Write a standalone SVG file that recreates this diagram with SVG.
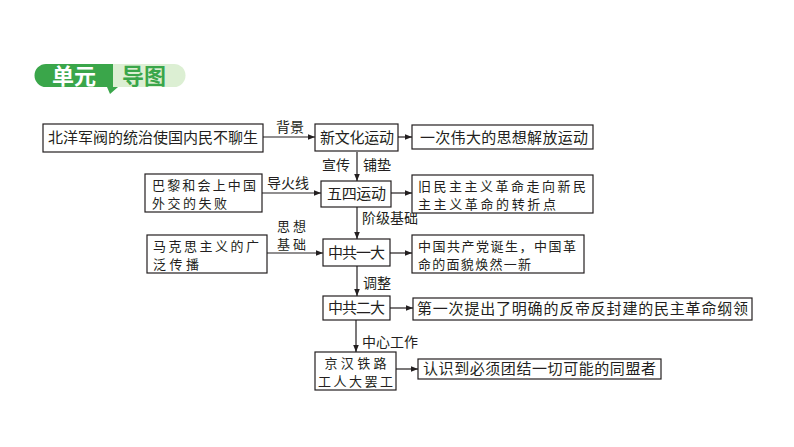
<svg xmlns="http://www.w3.org/2000/svg" width="794" height="447" viewBox="0 0 794 447">
<style>
.box{fill:#fff;stroke:#231f20;stroke-width:1.2}
.t{font-family:"Noto Sans CJK SC","Noto Sans CJK JP",sans-serif;font-size:15px;fill:#231f20}
.t2{font-family:"Noto Sans CJK SC","Noto Sans CJK JP",sans-serif;font-size:13px;fill:#231f20}
.l{font-family:"Noto Sans CJK SC","Noto Sans CJK JP",sans-serif;font-size:14px;fill:#231f20}
.l2{font-family:"Noto Sans CJK SC","Noto Sans CJK JP",sans-serif;font-size:13px;fill:#231f20}
.c{stroke:#231f20;stroke-width:1.2;fill:none;marker-end:url(#ah)}
.h{font-family:"Noto Sans CJK SC",sans-serif;font-size:22px;font-weight:bold}
</style>
<defs>
<marker id="ah" viewBox="0 0 10 10" refX="10" refY="5" markerWidth="7" markerHeight="7" markerUnits="userSpaceOnUse" orient="auto">
<path d="M0,1 L10,5 L0,9 Z" fill="#231f20"/>
</marker>
</defs>
<rect width="794" height="447" fill="#fff"/>
<g id="header">
<path d="M112,64 H174 A11,11 0 0 1 174,87 H112 Z" fill="#dcefd3"/>
<path d="M46,64 H113 V87 H118 L110,94 L107,87 H46 A11.5,11.5 0 0 1 46,64 Z" fill="#3aa64a"/>
<text class="h" x="52" y="84" fill="#fff">单元</text>
<text class="h" x="122" y="84" fill="#3aa64a">导图</text>
</g>
<g id="connectors">
<path class="c" d="M263,137 H315"/>
<text class="l" x="276" y="132">背景</text>
<path class="c" d="M398,137 H412"/>
<path class="c" d="M357,152 V181"/>
<text class="l" x="322" y="170">宣传</text>
<text class="l" x="363" y="170">铺垫</text>
<path class="c" d="M262,193 H321"/>
<text class="l" x="267" y="188">导火线</text>
<path class="c" d="M391,193 H412"/>
<path class="c" d="M357,207 V239"/>
<text class="l" x="362" y="223">阶级基础</text>
<path class="c" d="M267,253 H323"/>
<text class="l2" x="277" y="231" textLength="29" lengthAdjust="spacing">思想</text>
<text class="l2" x="277" y="249" textLength="29" lengthAdjust="spacing">基础</text>
<path class="c" d="M390,253 H412"/>
<path class="c" d="M357,266 V296"/>
<text class="l" x="363" y="288">调整</text>
<path class="c" d="M390,308 H413"/>
<path class="c" d="M356,320 V352"/>
<text class="l" x="362" y="347">中心工作</text>
<path class="c" d="M396,369 H418"/>
</g>
<g id="n1"><rect class="box" x="43" y="124" width="220" height="28"/><text class="t" x="48" y="143" textLength="210" lengthAdjust="spacing">北洋军阀的统治使国内民不聊生</text></g>
<g id="n2"><rect class="box" x="315" y="124" width="83" height="27"/><text class="t" x="320" y="143" textLength="74" lengthAdjust="spacing">新文化运动</text></g>
<g id="n3"><rect class="box" x="412" y="125" width="181" height="24"/><text class="t" x="420" y="143" textLength="168" lengthAdjust="spacing">一次伟大的思想解放运动</text></g>
<g id="n4"><rect class="box" x="145" y="174" width="117" height="38"/><text class="t2" x="152" y="190" textLength="104" lengthAdjust="spacing">巴黎和会上中国</text><text class="t2" x="152" y="208" textLength="75" lengthAdjust="spacing">外交的失败</text></g>
<g id="n5"><rect class="box" x="321" y="181" width="70" height="26"/><text class="t" x="327" y="199" textLength="59" lengthAdjust="spacing">五四运动</text></g>
<g id="n6"><rect class="box" x="412" y="175" width="181" height="38"/><text class="t2" x="418" y="191" textLength="168" lengthAdjust="spacing">旧民主主义革命走向新民</text><text class="t2" x="418" y="209" textLength="138" lengthAdjust="spacing">主主义革命的转折点</text></g>
<g id="n7"><rect class="box" x="147" y="235" width="120" height="38"/><text class="t2" x="153" y="251" textLength="106" lengthAdjust="spacing">马克思主义的广</text><text class="t2" x="153" y="269" textLength="46" lengthAdjust="spacing">泛传播</text></g>
<g id="n8"><rect class="box" x="323" y="239" width="67" height="27"/><text class="t" x="328" y="258" textLength="57" lengthAdjust="spacing">中共一大</text></g>
<g id="n9"><rect class="box" x="412" y="235" width="172" height="38"/><text class="t2" x="418" y="251" textLength="158" lengthAdjust="spacing">中国共产党诞生，中国革</text><text class="t2" x="418" y="269" textLength="113" lengthAdjust="spacing">命的面貌焕然一新</text></g>
<g id="n10"><rect class="box" x="323" y="296" width="67" height="24"/><text class="t" x="328" y="313" textLength="57" lengthAdjust="spacing">中共二大</text></g>
<g id="n11"><rect class="box" x="413" y="298" width="339" height="22"/><text class="t" x="417" y="314" textLength="331" lengthAdjust="spacing">第一次提出了明确的反帝反封建的民主革命纲领</text></g>
<g id="n12"><rect class="box" x="315" y="352" width="81" height="38"/><text class="t2" x="355.5" y="368" text-anchor="middle" textLength="62" lengthAdjust="spacing">京汉铁路</text><text class="t2" x="355.5" y="386" text-anchor="middle" textLength="75" lengthAdjust="spacing">工人大罢工</text></g>
<g id="n13"><rect class="box" x="418" y="359" width="243" height="20"/><text class="t" x="423" y="374" textLength="233" lengthAdjust="spacing">认识到必须团结一切可能的同盟者</text></g>
</svg>
